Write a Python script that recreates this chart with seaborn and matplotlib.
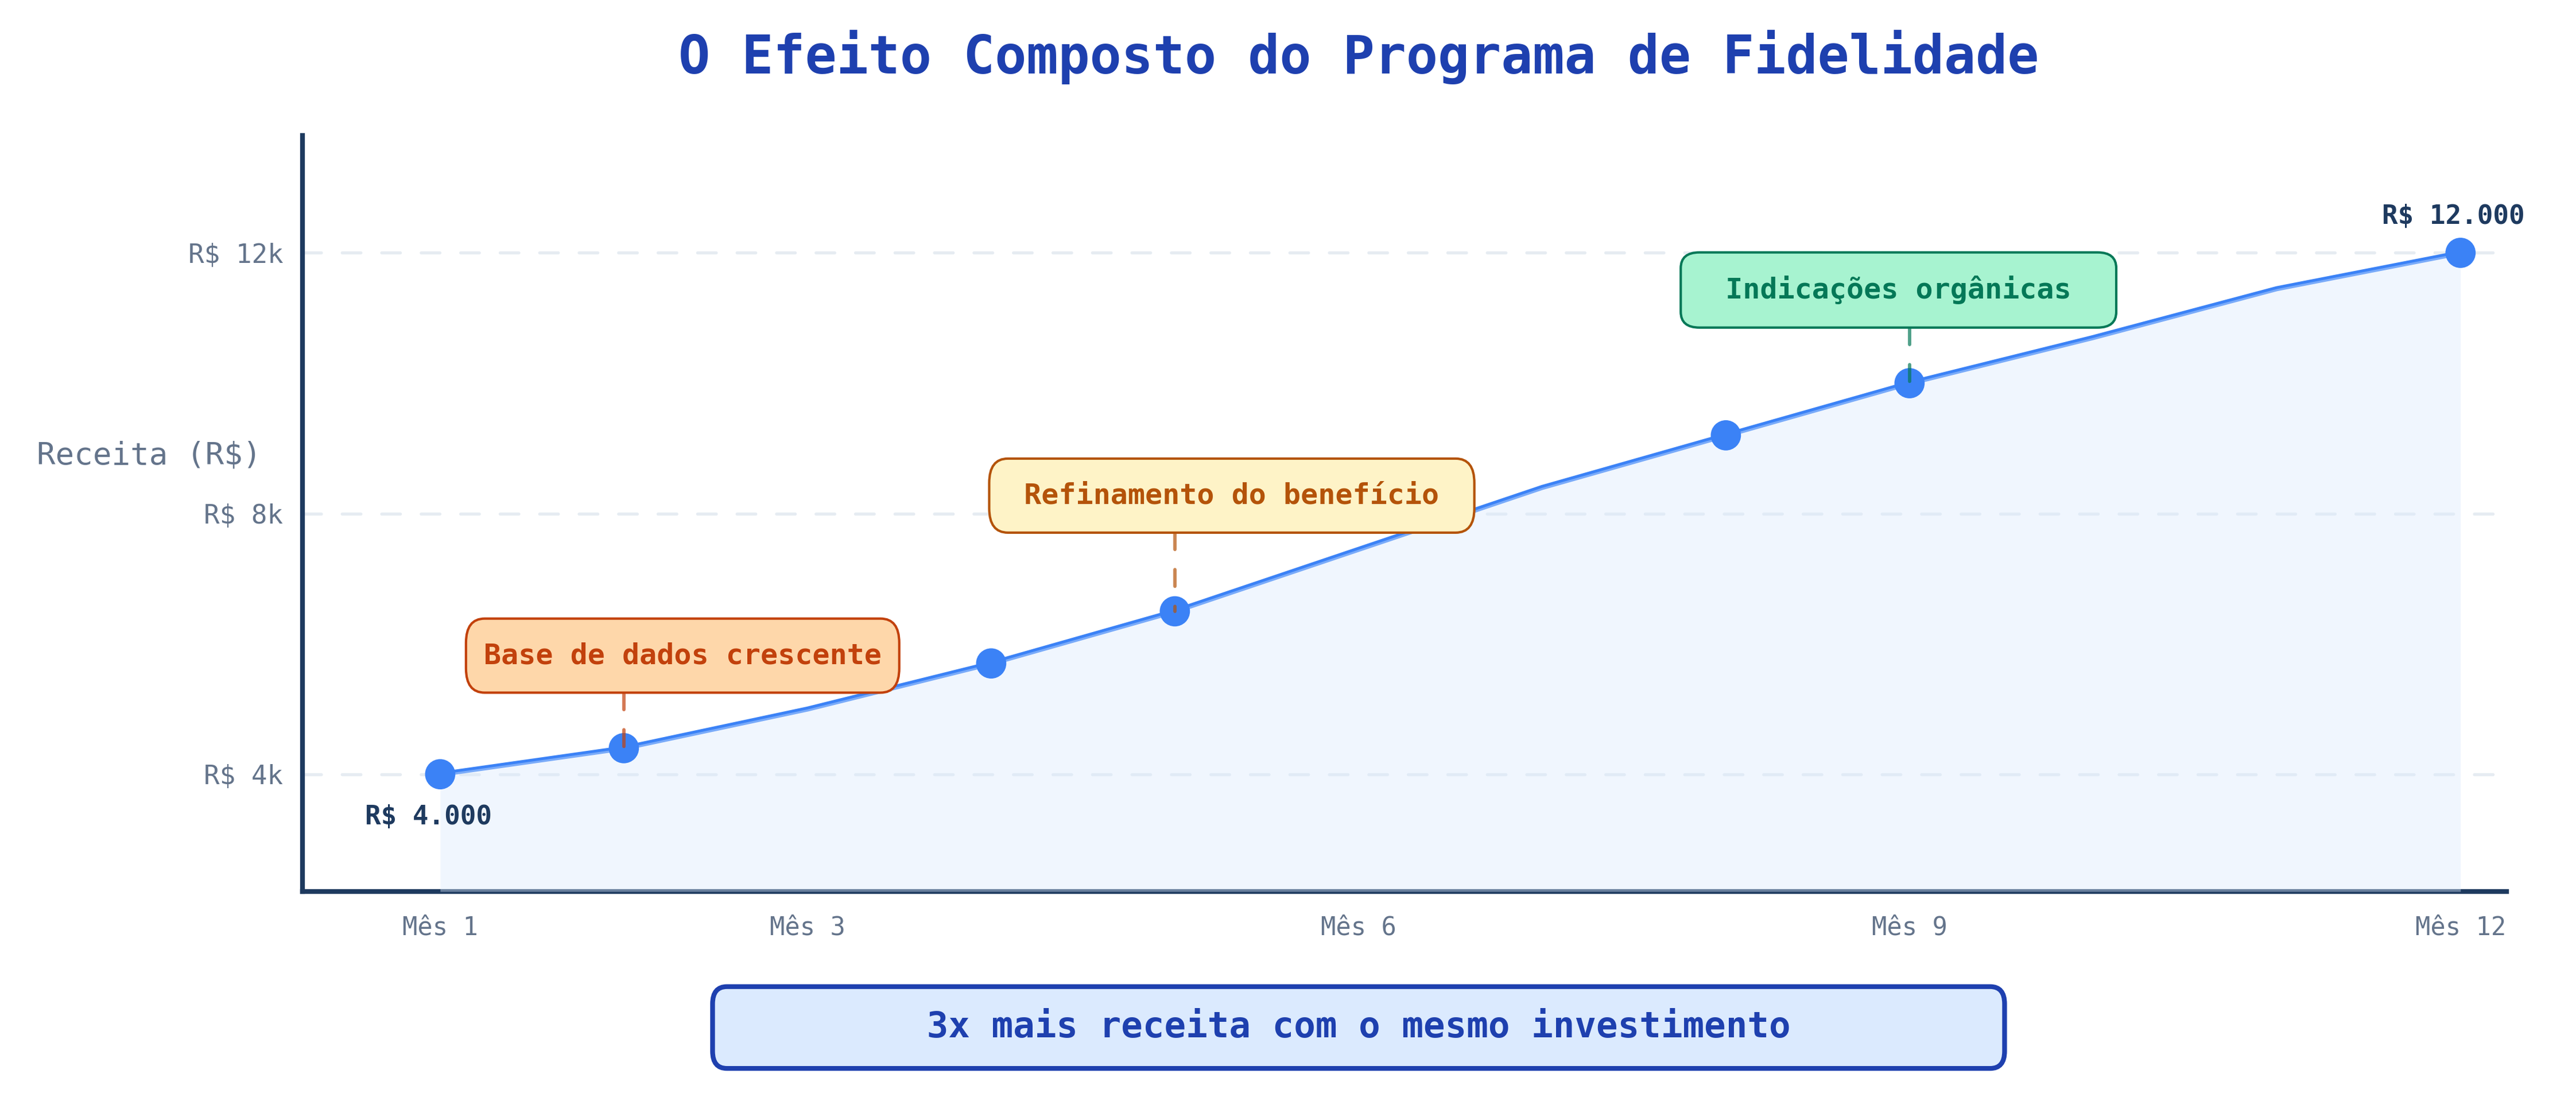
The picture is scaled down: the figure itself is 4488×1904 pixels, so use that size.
import matplotlib
matplotlib.use("Agg")
import matplotlib.pyplot as plt
import seaborn as sns
import pandas as pd

# dados
meses = list(range(1, 13))
receita = [4000, 4400, 5000, 5700, 6500, 7450, 8400, 9200, 10000, 10700, 11450, 12000]
meses_marcados = [1, 2, 4, 5, 8, 9, 12]
tick_meses = [1, 3, 6, 9, 12]
tick_receita = [4000, 8000, 12000]

marcos_texto = ["Base de dados crescente", " Refinamento do benefício ", " Indicações orgânicas "]
marcos_mes = [2, 5, 9]
marcos_face = ["#FED7AA", "#FEF3C7", "#A7F3D0"]
marcos_cor = ["#C2410C", "#B45309", "#047857"]
# deslocamento da caixa em relacao ao ponto (meses, R$) e folga da caixa
marcos_dx = [0.32, 0.31, -0.06]
marcos_dy = [1420, 1775, 1430]
marcos_pad = [0.62, 0.62, 0.96]

titulo = "O Efeito Composto do Programa de Fidelidade"
rodape = "3x mais receita com o mesmo investimento"

sns.set_style("white")
plt.rcParams["font.family"] = ["DejaVu Sans Mono", "DejaVu Sans"]

df = pd.DataFrame({"mes": meses, "receita": receita})
y_min = min(receita) * 0.55
y_max = max(receita) * 1.15

fig = plt.figure(figsize=(14.96, 6.3467), dpi=300)
ax = fig.add_axes([0.1174, 0.1843, 0.8556, 0.6917])

ax.yaxis.grid(True, color="#E6ECF2", linewidth=1.3, linestyle=(0, (6, 6.7)),
              dash_capstyle="round")
ax.set_axisbelow(True)

sns.lineplot(data=df, x="mes", y="receita", color="#3B82F6", linewidth=2.1,
             ax=ax, zorder=2)
ax.fill_between(df["mes"], df["receita"], y_min, color="#DBEAFE", alpha=0.4,
                linewidth=0, zorder=3)
marc = df[df["mes"].isin(meses_marcados)]
sns.scatterplot(data=marc, x="mes", y="receita", s=160, color="#3B82F6",
                edgecolor="none", linewidth=0, ax=ax, zorder=4)

ax.set_xlim(0.25, 12.25)
ax.set_ylim(y_min, y_max)
ax.set_xticks(tick_meses)
ax.set_xticklabels([f"Mês {m}" for m in tick_meses])
ax.set_yticks(tick_receita)
ax.set_yticklabels([f"R$ {int(v / 1000)}k" for v in tick_receita])
ax.tick_params(axis="x", length=0, pad=10, labelsize=10.5, colors="#64748B")
ax.tick_params(axis="y", length=0, pad=8, labelsize=11, colors="#64748B")
ax.set_xlabel("")
ax.set_ylabel("Receita (R$)", rotation=0, fontsize=13, color="#64748B",
              ha="center", va="center")
ax.yaxis.set_label_coords(-0.0695, 0.577)

sns.despine(ax=ax)
for s in ["left", "bottom"]:
    ax.spines[s].set_color("#1E3A5F")
    ax.spines[s].set_linewidth(2)

def fmt(v):
    return "R$ " + f"{v:,.0f}".replace(",", ".")

ax.annotate(fmt(receita[0]), (meses[0], receita[0]), xytext=(-5, -18),
            textcoords="offset points", ha="center", va="center",
            fontsize=11, fontweight="bold", color="#1E3A5F", zorder=6)
ax.annotate(fmt(receita[-1]), (meses[-1], receita[-1]), xytext=(-3, 15),
            textcoords="offset points", ha="center", va="center",
            fontsize=11, fontweight="bold", color="#1E3A5F", zorder=6)

caixas = []
for txt, m, face, cor, dx, dy, pad in zip(marcos_texto, marcos_mes, marcos_face,
                                          marcos_cor, marcos_dx, marcos_dy, marcos_pad):
    v = receita[meses.index(m)]
    t = ax.text(m + dx, v + dy, txt, ha="center", va="center", fontsize=12,
                fontweight="bold", color=cor, zorder=6,
                bbox=dict(boxstyle=f"round,pad={pad},rounding_size=0.65",
                          mutation_aspect=0.81 / pad, fc=face, ec=cor, lw=1.0))
    caixas.append((t, m, v, cor))

fig.canvas.draw()
inv = ax.transData.inverted()
for t, m, v, cor in caixas:
    bb = t.get_bbox_patch().get_window_extent()
    y_base = inv.transform((0, bb.y0))[1]
    ax.plot([m, m], [y_base, v], color=cor, alpha=0.7, linewidth=1.4,
            linestyle=(0, (5, 6)), dash_capstyle="round", zorder=5)

fig.text(0.5274, 0.9475, titulo, ha="center", va="center", fontsize=22,
         fontweight="bold", color="#1E40AF")
fig.text(0.5274, 0.0599, " " * 9 + rodape + " " * 9, ha="center", va="center",
         fontsize=15, fontweight="bold", color="#1E40AF",
         bbox=dict(boxstyle="round,pad=0.55,rounding_size=0.4",
                   mutation_aspect=1.2, fc="#DBEAFE", ec="#1E40AF", lw=2))

fig.savefig("out.png", dpi=300)
